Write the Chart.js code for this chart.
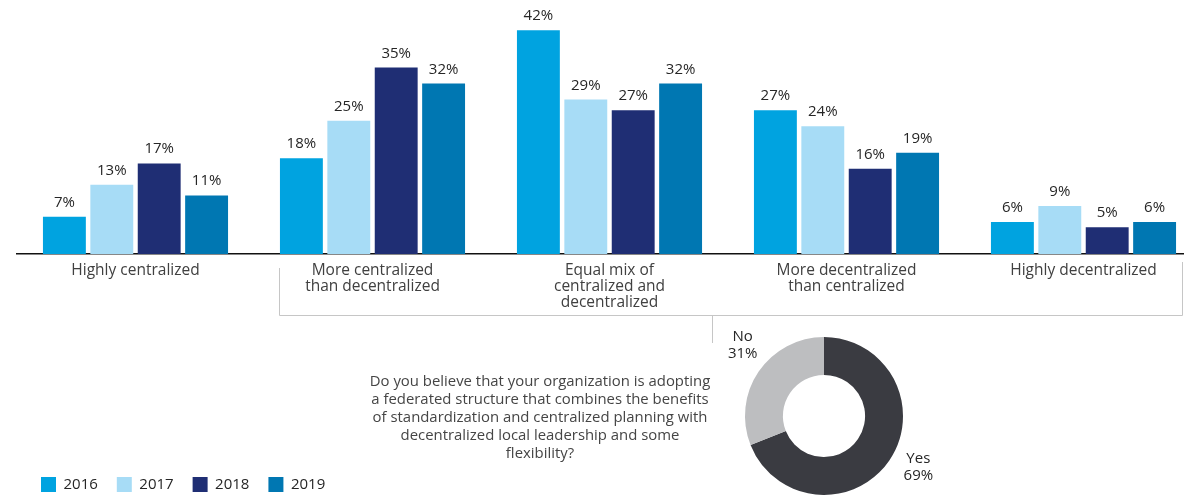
<!DOCTYPE html>
<html>
<head>
<meta charset="utf-8">
<title>Centralization of supply chain organizations</title>
<script src="https://cdn.jsdelivr.net/npm/chart.js@4.4.1/dist/chart.umd.min.js"></script>
<style>
  html, body { margin: 0; padding: 0; background: #fff; width: 1184px; height: 500px; overflow: hidden; }
  #wrap { position: relative; width: 1184px; height: 500px; overflow: hidden; }
  #bars { position: absolute; left: 0; top: 0; }
  #donut { position: absolute; left: 360px; top: 320px; }
</style>
</head>
<body>
<div id="wrap">
  <canvas id="bars" width="1202" height="500"></canvas>
  <canvas id="donut" width="600" height="180"></canvas>
</div>
<script>
// Survey categories (x axis) and the share of respondents per year, in percent
const categories = [
  ["Highly centralized"],
  ["More centralized", "than decentralized"],
  ["Equal mix of", "centralized and", "decentralized"],
  ["More decentralized", "than centralized"],
  ["Highly decentralized"]
];
const years = ["2016", "2017", "2018", "2019"];
const values2016 = [7, 18, 42, 27, 6];
const values2017 = [13, 25, 29, 24, 9];
const values2018 = [17, 35, 27, 16, 5];
const values2019 = [11, 32, 32, 19, 6];
const yearColors = ["#00A3E0", "#A7DCF6", "#1F2E74", "#0077B2"];

// Federated-structure question (doughnut)
const federatedLabels = ["Yes", "No"];
const federatedValues = [69, 31];
const federatedColors = ["#3A3B41", "#BDBEC0"];
const questionLines = [
  "Do you believe that your organization is adopting",
  "a federated structure that combines the benefits",
  "of standardization and centralized planning with",
  "decentralized local leadership and some",
  "flexibility?"
];

const FONT = '"Open Sans", "DejaVu Sans", sans-serif';
const LEGEND_PAD = 19;
const LEGEND_H = 15 + LEGEND_PAD + 10;
const PLOT_BOTTOM = 254;

// Percent labels above each bar
const valueLabels = {
  id: 'valueLabels',
  afterDatasetsDraw(chart) {
    const ctx = chart.ctx;
    ctx.save();
    ctx.font = '15px ' + FONT;
    ctx.fillStyle = '#262626';
    ctx.textAlign = 'center';
    ctx.textBaseline = 'alphabetic';
    chart.data.datasets.forEach((ds, i) => {
      chart.getDatasetMeta(i).data.forEach((bar, j) => {
        ctx.fillText(ds.data[j] + '%', bar.x, bar.y - 10);
      });
    });
    ctx.restore();
  }
};

// Thin grey bracket grouping the four non-extreme categories, with a drop to the question
const bracket = {
  id: 'bracket',
  afterDraw(chart) {
    const ctx = chart.ctx;
    ctx.save();
    ctx.strokeStyle = '#C6C6C6';
    ctx.lineWidth = 1;
    ctx.beginPath();
    ctx.moveTo(279.5, 268); ctx.lineTo(279.5, 315.5);
    ctx.lineTo(1182.5, 315.5); ctx.lineTo(1182.5, 262);
    ctx.moveTo(712.5, 315.5); ctx.lineTo(712.5, 343);
    ctx.stroke();
    ctx.restore();
  }
};

// Place the legend in the bottom-left corner
const legendPlacement = {
  id: 'legendPlacement',
  afterLayout(chart) {
    const lg = chart.legend;
    if (!lg) return;
    const dx = 41 - (lg.left + LEGEND_PAD);
    const dy = 477 - (lg.top + LEGEND_PAD);
    lg.left += dx; lg.right += dx;
    lg.top += dy; lg.bottom += dy;
  }
};

const seriesValues = [values2016, values2017, values2018, values2019];

new Chart(document.getElementById('bars'), {
  type: 'bar',
  data: {
    labels: categories,
    datasets: years.map((y, i) => ({
      label: y,
      data: seriesValues[i],
      backgroundColor: yearColors[i],
      borderWidth: 0,
      barPercentage: 0.905,
      categoryPercentage: 0.8
    }))
  },
  options: {
    responsive: false,
    animation: false,
    layout: { padding: { left: 17, right: 0, top: 9, bottom: 0 } },
    scales: {
      x: {
        grid: { display: false, drawTicks: false },
        border: { display: true, color: '#111', width: 1.5 },
        ticks: {
          autoSkip: false, maxRotation: 0, minRotation: 0, padding: 9,
          color: '#404040',
          font: { family: FONT, size: 15.5, lineHeight: '16px' }
        },
        afterFit(scale) { scale.height = 500 - LEGEND_H - PLOT_BOTTOM; }
      },
      y: { display: false, min: 0, max: 46 }
    },
    plugins: {
      legend: {
        position: 'bottom',
        align: 'start',
        labels: {
          boxWidth: 15, boxHeight: 15, padding: LEGEND_PAD,
          color: '#262626',
          font: { family: FONT, size: 15 }
        }
      },
      tooltip: { enabled: false }
    }
  },
  plugins: [valueLabels, bracket, legendPlacement]
});

// Slice labels and the question text beside the doughnut
const sliceLabelOffsets = [[29, 7], [-16, -26]];
const donutText = {
  id: 'donutText',
  afterDraw(chart) {
    const ctx = chart.ctx;
    ctx.save();
    ctx.textAlign = 'center';
    ctx.textBaseline = 'middle';
    ctx.font = '15px ' + FONT;
    ctx.fillStyle = '#262626';
    chart.getDatasetMeta(0).data.forEach((arc, i) => {
      const mid = (arc.startAngle + arc.endAngle) / 2;
      const px = arc.x + Math.cos(mid) * arc.outerRadius + sliceLabelOffsets[i][0];
      const py = arc.y + Math.sin(mid) * arc.outerRadius + sliceLabelOffsets[i][1];
      ctx.fillText(federatedLabels[i], px, py - 8.5);
      ctx.fillText(federatedValues[i] + '%', px, py + 8.5);
    });
    ctx.font = '14.9px ' + FONT;
    ctx.fillStyle = '#454545';
    questionLines.forEach((line, k) => {
      ctx.fillText(line, 540 - 360, 62 + 18 * k);
    });
    ctx.restore();
  }
};

new Chart(document.getElementById('donut'), {
  type: 'doughnut',
  data: {
    labels: federatedLabels,
    datasets: [{ data: federatedValues, backgroundColor: federatedColors, borderWidth: 0 }]
  },
  options: {
    responsive: false,
    animation: false,
    cutout: '52%',
    layout: { padding: { left: 385, right: 57, top: 17, bottom: 5 } },
    plugins: { legend: { display: false }, tooltip: { enabled: false } }
  },
  plugins: [donutText]
});
</script>
</body>
</html>
